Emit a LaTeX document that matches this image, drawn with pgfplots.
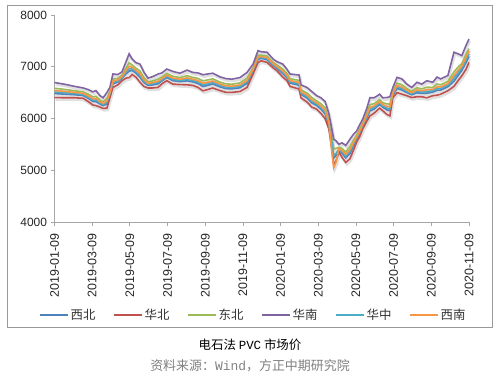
\documentclass[border=0pt]{standalone}
\usepackage{fontspec}
\setmainfont{Liberation Sans}
\newfontfamily\cjk{Noto Sans CJK SC}
\newfontfamily\monof{Liberation Mono}
\usepackage{pgfplots}
\usepackage{pgfplotstable}
\pgfplotsset{compat=1.18}
\definecolor{cB}{HTML}{4F81BD}
\definecolor{cR}{HTML}{C0504D}
\definecolor{cG}{HTML}{9BBB59}
\definecolor{cP}{HTML}{8064A2}
\definecolor{cT}{HTML}{4BACC6}
\definecolor{cO}{HTML}{F79646}

% t = position in 2-month tick units (0 = 2019-01-09, 11 = 2020-11-09)
\pgfplotstableread{
t B R G P T O
0.00 6483 6405 6585 6695 6512 6541
0.28 6470 6400 6561 6660 6496 6522
0.54 6459 6400 6536 6620 6481 6503
0.76 6444 6390 6514 6590 6464 6484
0.89 6392 6330 6473 6560 6415 6438
1.02 6329 6260 6418 6515 6354 6380
1.10 6328 6250 6430 6540 6357 6386
1.21 6279 6220 6356 6440 6301 6323
1.29 6250 6195 6322 6400 6271 6291
1.39 6281 6200 6386 6500 6311 6341
1.47 6454 6400 6524 6600 6474 6494
1.55 6670 6600 6761 6860 6696 6722
1.68 6704 6650 6774 6850 6724 6744
1.79 6776 6730 6835 6900 6793 6810
1.90 6866 6780 6978 7100 6898 6930
1.98 6914 6790 7075 7250 6960 7006
2.06 6931 6850 7036 7150 6961 6991
2.16 6876 6800 6974 7080 6904 6932
2.27 6795 6700 6917 7050 6830 6865
2.37 6696 6620 6794 6900 6724 6752
2.48 6641 6590 6708 6780 6660 6679
2.61 6649 6590 6726 6810 6671 6693
2.75 6670 6600 6761 6860 6696 6722
2.85 6727 6670 6800 6880 6748 6769
2.98 6791 6730 6870 6955 6813 6836
3.14 6731 6665 6817 6910 6756 6780
3.33 6714 6655 6791 6875 6736 6758
3.52 6727 6650 6827 6935 6755 6784
3.67 6708 6640 6795 6890 6733 6758
3.81 6676 6600 6774 6880 6704 6732
3.94 6619 6535 6727 6845 6650 6681
4.07 6641 6560 6746 6860 6671 6701
4.20 6667 6590 6767 6875 6695 6724
4.39 6612 6540 6704 6805 6638 6665
4.55 6577 6505 6669 6770 6603 6630
4.71 6574 6505 6663 6760 6599 6625
4.92 6593 6520 6687 6790 6620 6647
5.11 6678 6600 6780 6890 6707 6736
5.27 6911 6860 6978 7050 6930 6949
5.40 7142 7080 7223 7310 7165 7188
5.48 7162 7115 7224 7290 7180 7197
5.64 7138 7085 7206 7280 7157 7177
5.80 7026 6980 7085 7150 7043 7060
5.90 6972 6925 7034 7100 6990 7007
6.06 6868 6800 6955 7050 6893 6918
6.17 6789 6730 6866 6950 6811 6833
6.25 6685 6620 6769 6860 6709 6733
6.49 6643 6570 6737 6840 6670 6697
6.54 6468 6400 6555 6650 6493 6518
6.70 6396 6320 6494 6600 6424 6452
6.83 6301 6220 6406 6520 6331 6361
6.96 6250 6180 6341 6440 6276 6302
7.07 6181 6100 6286 6400 6211 6241
7.18 6089 6000 6205 6330 6122 6155
7.28 5881 5800 5986 6100 5911 5941
7.36 5508 5400 5648 5800 5548 5350
7.41 5235 5100 5410 5600 5285 5050
7.47 5285 5180 5422 5570 5324 5150
7.55 5390 5350 5443 5500 5406 5420
7.63 5326 5250 5424 5530 5354 5382
7.73 5239 5150 5355 5480 5272 5305
7.84 5323 5220 5456 5600 5361 5399
7.94 5481 5400 5586 5700 5511 5541
8.02 5607 5550 5680 5760 5628 5649
8.10 5712 5650 5793 5880 5735 5758
8.18 5851 5800 5918 5990 5870 5889
8.29 6018 5950 6105 6200 6043 6068
8.37 6145 6050 6267 6400 6180 6215
8.48 6181 6100 6286 6400 6211 6241
8.55 6226 6150 6324 6430 6254 6282
8.63 6273 6200 6367 6470 6300 6327
8.71 6218 6150 6305 6400 6243 6268
8.82 6168 6080 6282 6405 6200 6233
8.90 6150 6050 6279 6420 6187 6224
8.98 6454 6400 6524 6600 6474 6494
9.09 6580 6500 6683 6795 6609 6639
9.22 6550 6470 6653 6765 6579 6609
9.35 6501 6440 6580 6665 6523 6546
9.48 6458 6405 6526 6600 6477 6497
9.62 6496 6420 6594 6700 6524 6552
9.75 6486 6420 6572 6665 6511 6535
9.88 6489 6400 6605 6730 6522 6555
10.04 6510 6440 6601 6700 6536 6562
10.15 6545 6450 6667 6800 6580 6615
10.25 6550 6470 6653 6765 6579 6609
10.44 6615 6535 6718 6830 6644 6674
10.60 6720 6620 6900 7280 6780 6830
10.73 6850 6750 7010 7245 6900 6950
10.81 6930 6825 7060 7215 6970 7010
10.92 7080 6950 7240 7410 7130 7180
11.00 7200 7085 7350 7535 7250 7300
}\pricedata

\begin{document}
\begin{tikzpicture}
\path (0bp,0bp) rectangle (500bp,375bp);
\draw[color=black!40, line width=0.8bp] (7bp,48bp) rectangle (492bp,370bp);
\begin{axis}[
  at={(54.5bp,153bp)}, anchor=south west,
  scale only axis, width=414.5bp, height=207bp,
  xmin=0, xmax=11, ymin=4000, ymax=8000,
  axis x line*=bottom, axis y line*=left,
  axis line style={black!35, line width=0.8bp},
  tick style={black!35, line width=0.8bp},
  tick align=outside, major tick length=4bp,
  xtick={0,1,...,11},
  xticklabels={2019-01-09,2019-03-09,2019-05-09,2019-07-09,2019-09-09,2019-11-09,2020-01-09,2020-03-09,2020-05-09,2020-07-09,2020-09-09,2020-11-09},
  ytick={4000,5000,6000,7000,8000},
  yticklabels={4000,5000,6000,7000,8000},
  xticklabel shift=4bp,
  x tick label style={rotate=90, anchor=east, font=\fontsize{12.5}{14}\selectfont, black!85},
  y tick label style={font=\fontsize{12}{14}\selectfont, black!85},
  legend columns=6,
  legend style={draw=none, fill=none, at={(-0.045,-0.449)}, anchor=west,
    font=\cjk\fontsize{12.5}{14}\selectfont, text=black!80,
    /tikz/every even column/.append style={column sep=15.5bp}},
  legend image code/.code={\draw[#1, line width=1.6bp] (0bp,0bp) -- (28bp,0bp);},
  clip=false,
]
% soft shadows
\addplot[forget plot, black!12, line width=2.4bp, transform canvas={xshift=1bp, yshift=-2bp}] table[x=t, y=B] {\pricedata};
\addplot[forget plot, black!12, line width=2.4bp, transform canvas={xshift=1bp, yshift=-2bp}] table[x=t, y=R] {\pricedata};
\addplot[forget plot, black!12, line width=2.4bp, transform canvas={xshift=1bp, yshift=-2bp}] table[x=t, y=G] {\pricedata};
\addplot[forget plot, black!12, line width=2.4bp, transform canvas={xshift=1bp, yshift=-2bp}] table[x=t, y=P] {\pricedata};
\addplot[forget plot, black!12, line width=2.4bp, transform canvas={xshift=1bp, yshift=-2bp}] table[x=t, y=T] {\pricedata};
\addplot[forget plot, black!12, line width=2.4bp, transform canvas={xshift=1bp, yshift=-2bp}] table[x=t, y=O] {\pricedata};
% series
\addplot[cB, line width=1.6bp] table[x=t, y=B] {\pricedata};
\addlegendentry{西北}
\addplot[cR, line width=1.6bp] table[x=t, y=R] {\pricedata};
\addlegendentry{华北}
\addplot[cG, line width=1.6bp] table[x=t, y=G] {\pricedata};
\addlegendentry{东北}
\addplot[cP, line width=1.6bp] table[x=t, y=P] {\pricedata};
\addlegendentry{华南}
\addplot[cT, line width=1.6bp] table[x=t, y=T] {\pricedata};
\addlegendentry{华中}
\addplot[cO, line width=1.6bp] table[x=t, y=O] {\pricedata};
\addlegendentry{西南}
\end{axis}
\node[font=\cjk\fontsize{12.5}{14}\selectfont, text=black] at (250bp,30bp) {电石法 {\monof PVC} 市场价};
\node[font=\cjk\fontsize{13}{15}\selectfont, text=black!50] at (250bp,9bp) {资料来源：{\monof Wind}，方正中期研究院};
\end{tikzpicture}
\end{document}
